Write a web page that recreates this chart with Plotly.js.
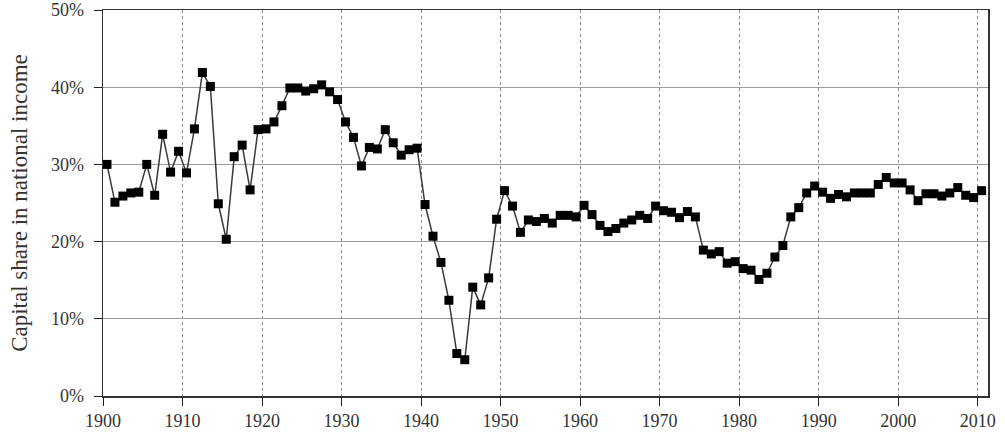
<!DOCTYPE html>
<html>
<head>
<meta charset="utf-8">
<script src="https://cdn.plot.ly/plotly-3.0.1.min.js"></script>
<style>
  html, body { margin: 0; padding: 0; background: #fff; }
  #chart { width: 1005px; height: 434px; }
</style>
</head>
<body>
<div id="chart"></div>
<script>
const years = [
  1900,1901,1902,1903,1904,1905,1906,1907,1908,1909,
  1910,1911,1912,1913,1914,1915,1916,1917,1918,1919,
  1920,1921,1922,1923,1924,1925,1926,1927,1928,1929,
  1930,1931,1932,1933,1934,1935,1936,1937,1938,1939,
  1940,1941,1942,1943,1944,1945,1946,1947,1948,1949,
  1950,1951,1952,1953,1954,1955,1956,1957,1958,1959,
  1960,1961,1962,1963,1964,1965,1966,1967,1968,1969,
  1970,1971,1972,1973,1974,1975,1976,1977,1978,1979,
  1980,1981,1982,1983,1984,1985,1986,1987,1988,1989,
  1990,1991,1992,1993,1994,1995,1996,1997,1998,1999,
  2000,2001,2002,2003,2004,2005,2006,2007,2008,2009,
  2010
];

const capitalShare = [
  30.0,25.1,25.9,26.3,26.4,30.0,26.0,33.9,29.0,31.7,
  28.9,34.6,41.9,40.1,24.9,20.3,31.0,32.5,26.7,34.5,
  34.6,35.5,37.6,39.9,39.9,39.5,39.8,40.3,39.4,38.4,
  35.5,33.5,29.8,32.2,32.0,34.5,32.8,31.2,31.9,32.1,
  24.8,20.7,17.3,12.4,5.5,4.7,14.1,11.8,15.3,22.9,
  26.6,24.6,21.2,22.8,22.6,23.0,22.4,23.4,23.4,23.2,
  24.7,23.5,22.1,21.3,21.7,22.4,22.8,23.4,23.0,24.6,
  24.0,23.8,23.1,23.9,23.2,18.9,18.4,18.7,17.2,17.4,
  16.5,16.3,15.1,15.9,18.0,19.5,23.2,24.4,26.3,27.2,
  26.4,25.6,26.1,25.8,26.3,26.3,26.3,27.4,28.3,27.6,
  27.6,26.7,25.3,26.2,26.2,25.9,26.3,27.0,26.0,25.7,
  26.6
];

const xTicks = [1900,1910,1920,1930,1940,1950,1960,1970,1980,1990,2000,2010];
const yTicks = [0,10,20,30,40,50];
const yTitle = "Capital share in national income";

const serif = "Liberation Serif, DejaVu Serif, serif";

const trace = {
  type: "scatter",
  mode: "lines+markers",
  x: years.map(y => y + 0.5),   // annual observations plotted at mid-year
  y: capitalShare,
  line: { color: "#3a3a3a", width: 1.5 },
  marker: { symbol: "square", size: 9, color: "#000" },
  hoverinfo: "x+y"
};

const layout = {
  width: 1005,
  height: 434,
  margin: { l: 103, r: 17, t: 10, b: 38 },
  paper_bgcolor: "#fff",
  plot_bgcolor: "#fff",
  showlegend: false,
  font: { family: serif, color: "#333", size: 15 },
  xaxis: {
    range: [1900, 2011.3],
    tickvals: xTicks,
    ticktext: xTicks.map(String),
    ticks: "outside",
    ticklen: 8,
    tickcolor: "#222",
    showgrid: true,
    gridcolor: "#8a8a8a",
    gridwidth: 1,
    griddash: "3px,3px",
    showline: true,
    linecolor: "#333",
    linewidth: 1.5,
    mirror: true,
    zeroline: false,
    tickfont: { family: serif, size: 18, color: "#333" },
    fixedrange: true
  },
  yaxis: {
    range: [0, 50],
    tickvals: yTicks,
    ticktext: yTicks.map(v => v + "%"),
    ticks: "outside",
    ticklen: 8,
    tickcolor: "#222",
    ticklabelstandoff: 6,
    showgrid: true,
    gridcolor: "#9a9a9a",
    gridwidth: 1,
    showline: true,
    linecolor: "#333",
    linewidth: 1.5,
    mirror: true,
    zeroline: false,
    tickfont: { family: serif, size: 18, color: "#333" },
    title: { text: yTitle, font: { family: serif, size: 23, color: "#333" }, standoff: 17 },
    fixedrange: true
  }
};

Plotly.newPlot("chart", [trace], layout, { displayModeBar: false, staticPlot: true });
</script>
</body>
</html>
